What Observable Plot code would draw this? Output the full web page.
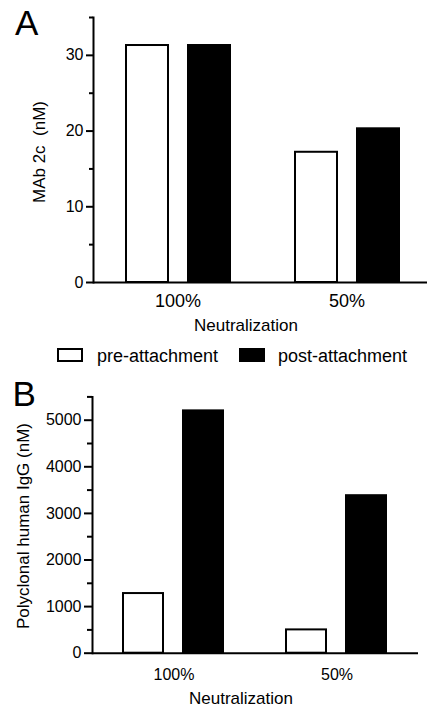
<!DOCTYPE html>
<html>
<head>
<meta charset="utf-8">
<script src="https://cdn.jsdelivr.net/npm/d3@7"></script>
<script src="https://cdn.jsdelivr.net/npm/@observablehq/plot@0.6"></script>
<style>
  html, body { margin: 0; padding: 0; background: white; overflow: hidden; }
  #page { position: relative; width: 427px; height: 707px; overflow: hidden; font-family: "Liberation Sans", Arial, sans-serif; color: black; }
  .abs { position: absolute; white-space: pre; line-height: 1; }
  .panel { position: absolute; left: 0; }
  .box { position: absolute; box-sizing: border-box; border: 2px solid black; }
</style>
</head>
<body>
<div id="page">
  <div id="panelA" class="panel" style="top:0px"></div>
  <div id="panelB" class="panel" style="top:385px"></div>
</div>
<script>
// ---- data ----
const neutralization = ["100%", "50%"];
const treatments = ["pre-attachment", "post-attachment"];
const mabPre = [31.3, 17.2];
const mabPost = [31.3, 20.3];
const iggPre = [1280, 500];
const iggPost = [5200, 3380];
const mabMajorTicks = [0, 10, 20, 30];
const mabMinorTicks = [5, 15, 25, 35];
const iggMajorTicks = [0, 1000, 2000, 3000, 4000, 5000];
const iggMinorTicks = [500, 1500, 2500, 3500, 4500, 5500];
const panelLetters = ["A", "B"];
const yTitles = ["MAb 2c\u00a0\u00a0(nM)", "Polyclonal human IgG (nM)"];
const xTitle = "Neutralization";

function rows(pre, post) {
  return neutralization.flatMap((n, i) => [
    {neutralization: n, treatment: treatments[0], value: pre[i]},
    {neutralization: n, treatment: treatments[1], value: post[i]}
  ]);
}

function panel(o) {
  return Plot.plot({
    width: o.width, height: o.height,
    marginTop: o.marginTop, marginBottom: o.marginBottom,
    marginLeft: o.marginLeft, marginRight: o.marginRight,
    style: {fontFamily: "'Liberation Sans', Arial, sans-serif", color: "black", background: "transparent", maxWidth: "none", overflow: "visible"},
    fx: {domain: neutralization, padding: 0},
    x: {domain: treatments, paddingInner: 0.33, paddingOuter: 0.51, axis: null},
    y: {domain: o.yDomain},
    color: {domain: treatments, range: ["white", "black"]},
    marks: [
      Plot.barY(o.data, {fx: "neutralization", x: "treatment", y: "value", fill: "treatment", stroke: "black", strokeWidth: 2}),
      Plot.ruleY([0], {stroke: "black", strokeWidth: 2}),
      Plot.frame({anchor: "left", fx: neutralization[0], stroke: "black", strokeWidth: 2}),
      Plot.axisY({ticks: o.major, tickSize: o.tickLen, tickPadding: 3, fontSize: o.yFont, stroke: "black", strokeWidth: 2, strokeOpacity: 1, tickFormat: d3.format("d"), label: null}),
      Plot.axisY({ticks: o.minor, tickSize: o.minorLen, tickFormat: () => "", stroke: "black", strokeWidth: 2, strokeOpacity: 1, label: null}),
      Plot.axisFx({anchor: "bottom", tickSize: 0, tickPadding: o.xPad, fontSize: o.xFont, label: null})
    ]
  });
}

document.getElementById("panelA").appendChild(panel({
  data: rows(mabPre, mabPost), yDomain: [0, 35], major: mabMajorTicks, minor: mabMinorTicks,
  width: 431, height: 315, marginTop: 17, marginBottom: 33, marginLeft: 93, marginRight: 0,
  yFont: 16, xFont: 18, xPad: 12, tickLen: 7, minorLen: 4
}));
document.getElementById("panelB").appendChild(panel({
  data: rows(iggPre, iggPost), yDomain: [0, 5500], major: iggMajorTicks, minor: iggMinorTicks,
  width: 427, height: 300, marginTop: 11.4, marginBottom: 32.3, marginLeft: 91, marginRight: 9,
  yFont: 16, xFont: 16, xPad: 15, tickLen: 8, minorLen: 5
}));

// ---- text and legend ----
const page = document.getElementById("page");
function addText(txt, css) {
  const d = document.createElement("div");
  d.className = "abs";
  d.textContent = txt;
  Object.assign(d.style, css);
  page.appendChild(d);
  return d;
}
addText(panelLetters[0], {left: "15px", top: "5.4px", fontSize: "35px"});
addText(panelLetters[1], {left: "12.5px", top: "376.4px", fontSize: "35px"});
addText(yTitles[0], {left: "38.5px", top: "151.7px", fontSize: "17px", transform: "translate(-50%,-50%) rotate(-90deg)"});
addText(yTitles[1], {left: "22.5px", top: "525.5px", fontSize: "17px", transform: "translate(-50%,-50%) rotate(-90deg)"});
addText(xTitle, {left: "246px", top: "317.3px", fontSize: "17px", transform: "translateX(-50%)"});
addText(xTitle, {left: "241px", top: "689.9px", fontSize: "17px", transform: "translateX(-50%)"});

const legendFills = ["white", "black"];
const legendBoxX = [57, 239];
const legendTextX = [97, 278];
treatments.forEach((t, i) => {
  const b = document.createElement("div");
  b.className = "box";
  Object.assign(b.style, {left: legendBoxX[i] + "px", top: "348px", width: "26px", height: "14px", background: legendFills[i]});
  page.appendChild(b);
  addText(t, {left: legendTextX[i] + "px", top: "346.8px", fontSize: "18px"});
});
</script>
</body>
</html>
